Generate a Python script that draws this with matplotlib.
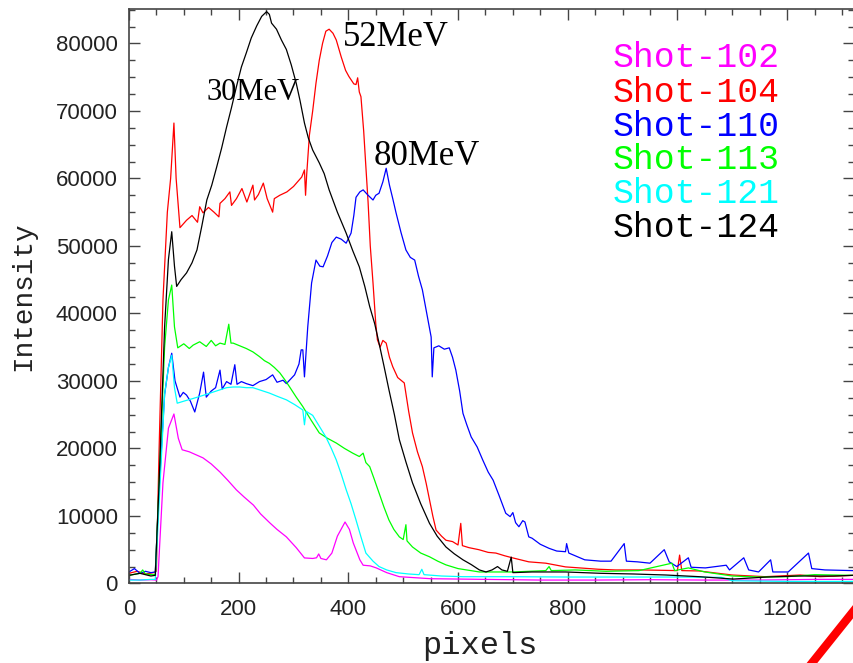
import matplotlib
matplotlib.use("Agg")
import matplotlib.pyplot as plt
from matplotlib.lines import Line2D
from matplotlib.ticker import MultipleLocator

# intensity profiles (pixels, counts)
x102 = [0, 20, 40, 50, 53, 62, 72, 82, 90, 97, 110, 135, 150, 166, 180, 196, 210, 227, 240, 257,
        270, 287, 305, 320, 335, 342, 346, 350, 360, 370, 380, 394, 402, 409, 421, 427, 440, 451,
        470, 493, 550, 650, 750, 850, 950, 1050, 1150, 1250, 1320]
y102 = [600, 500, 550, 500, 1000, 14900, 23000, 25100, 21500, 19800, 19500, 18600, 17700, 16500,
        15300, 13850, 12800, 11600, 10300, 8960, 8000, 6900, 5300, 3780, 3700, 3800, 4370, 3700,
        3500, 4500, 7000, 9100, 8000, 6000, 3500, 2700, 2600, 2300, 1600, 1000, 700, 600, 500, 500,
        550, 500, 500, 600, 600]

x104 = [0, 15, 30, 45, 50, 55, 62, 70, 76, 82, 86, 93, 105, 115, 125, 129, 135, 145, 155, 164,
        166, 175, 184, 187, 196, 206, 215, 226, 229, 236, 245, 252, 262, 265, 275, 288, 300, 315,
        320, 322, 324, 329, 335, 341, 347, 353, 359, 365, 372, 378, 387, 395, 401, 410, 414, 417,
        420, 423, 428, 432, 436, 440, 445, 450, 453, 458, 463, 469, 475, 481, 490, 502, 510, 517,
        526, 535, 542, 548, 554, 560, 570, 578, 590, 600, 605, 608, 620, 638, 655, 669, 685, 699,
        729, 760, 796, 856, 887, 935, 1000, 1004, 1008, 1039, 1100, 1160, 1224, 1260, 1320]
y104 = [1500, 1800, 1400, 1600, 1800, 20000, 42000, 55000, 60000, 68200, 60000, 52700, 53800,
        54500, 53500, 55800, 54900, 55700, 55000, 54300, 56300, 57000, 58000, 56000, 57000, 58500,
        56500, 59000, 56800, 57600, 59300, 57000, 55000, 57000, 57500, 58000, 58800, 60200, 61250,
        57500, 60500, 66400, 70000, 74100, 77500, 80000, 81800, 82100, 81500, 80500, 78000, 76000,
        75100, 74000, 73900, 74900, 72800, 72100, 67000, 61700, 56500, 50000, 44500, 38500, 36100,
        35000, 36000, 35600, 33500, 32100, 30500, 29700, 25500, 22300, 19500, 17300, 14800, 12400,
        10000, 7900, 7000, 6400, 6200, 5700, 8900, 5600, 5300, 5000, 4600, 4500, 4100, 3800, 3200,
        3000, 2450, 2100, 2000, 2000, 1900, 4200, 1900, 1850, 1250, 1000, 1250, 1000, 1200]

x110 = [0, 10, 20, 30, 40, 48, 55, 65, 72, 78, 84, 93, 99, 105, 112, 120, 129, 136, 141, 150, 158,
        166, 170, 178, 186, 193, 197, 205, 214, 226, 238, 250, 262, 270, 281, 287, 295, 302, 310,
        314, 317, 320, 326, 333, 341, 348, 354, 362, 370, 378, 387, 396, 405, 410, 414, 421, 427,
        436, 445, 450, 456, 463, 469, 475, 481, 487, 496, 505, 513, 521, 528, 535, 543, 551, 553,
        556, 565, 575, 584, 590, 596, 603, 609, 616, 624, 635, 645, 655, 664, 675, 687, 695, 700,
        705, 711, 718, 722, 729, 735, 750, 766, 780, 796, 798, 802, 831, 860, 879, 903, 907, 927,
        950, 976, 985, 999, 1020, 1025, 1051, 1089, 1095, 1121, 1130, 1148, 1170, 1174, 1202, 1239,
        1245, 1269, 1320]
y110 = [1700, 2200, 1500, 1800, 1600, 1700, 14000, 28000, 32000, 34100, 30000, 27600, 28300, 27900,
        27000, 25400, 28200, 31300, 27600, 28500, 29000, 31600, 28800, 29900, 29500, 32400, 29500,
        29900, 29600, 29300, 29900, 30200, 30900, 29800, 30100, 29600, 30300, 30900, 32500, 34600,
        34600, 30600, 38000, 44500, 47900, 47000, 46900, 48500, 50500, 51300, 51000, 50400, 51900,
        54500, 57200, 58000, 58300, 57500, 56800, 57500, 57800, 59500, 61500, 59000, 57000, 54900,
        52000, 49400, 48300, 47900, 45500, 43500, 40000, 36500, 30600, 34900, 35200, 34700, 34900,
        33500, 31600, 28500, 25200, 23500, 21700, 20200, 18300, 16500, 15300, 13000, 10400, 9900,
        10500, 9000, 8400, 9300, 9100, 6900, 6700, 5800, 5200, 4800, 4700, 5900, 4500, 3500, 3300,
        3300, 5900, 3300, 3200, 3000, 5000, 3200, 2500, 3800, 2400, 2300, 2700, 2000, 3800, 2000,
        1700, 3500, 1700, 1700, 4500, 2200, 2000, 1900]

x113 = [0, 20, 25, 30, 40, 48, 55, 65, 72, 78, 83, 89, 100, 110, 117, 129, 141, 150, 158, 166, 175,
        182, 186, 190, 202, 214, 226, 238, 247, 256, 265, 275, 284, 293, 305, 317, 332, 347, 362,
        378, 393, 408, 420, 427, 432, 439, 447, 456, 465, 474, 483, 493, 500, 505, 507, 517, 532,
        548, 563, 578, 600, 639, 700, 760, 766, 770, 814, 870, 930, 990, 995, 1020, 1050, 1100,
        1150, 1200, 1250, 1320]
y113 = [1200, 1500, 2000, 1400, 1300, 1300, 15000, 35000, 42000, 44200, 38000, 34900, 35500, 34800,
        35300, 35800, 35100, 36000, 35200, 35600, 35400, 38400, 35600, 35600, 35200, 34800, 34300,
        33600, 33000, 32600, 32000, 31200, 30200, 29100, 27600, 26200, 24200, 22300, 21500, 20800,
        20000, 19300, 18800, 19300, 17900, 17300, 15500, 13400, 11300, 9400, 8000, 6900, 6500,
        8700, 6300, 5400, 4500, 3950, 3300, 2750, 2200, 1700, 1700, 1900, 2500, 1900, 2000, 1800,
        1900, 3000, 1900, 2300, 1700, 1100, 950, 1000, 1300, 1200]

x121 = [0, 20, 40, 48, 55, 65, 72, 78, 83, 88, 100, 117, 133, 148, 163, 178, 190, 202, 214, 226,
        241, 256, 271, 287, 302, 317, 320, 323, 335, 347, 359, 369, 378, 387, 396, 405, 414, 423,
        432, 445, 456, 470, 487, 510, 529, 534, 538, 570, 609, 700, 800, 900, 1000, 1080, 1100,
        1200, 1320]
y121 = [500, 500, 600, 600, 12000, 28000, 32000, 33800, 29000, 26700, 27000, 27400, 27800, 28200,
        28600, 29000, 29100, 29100, 29000, 29000, 28600, 28200, 27700, 27200, 26500, 25700, 23500,
        25500, 24900, 23300, 21700, 20000, 18300, 16200, 13900, 11800, 9400, 6900, 4500, 3300,
        2500, 2000, 1600, 1400, 1300, 2100, 1300, 1100, 1000, 1000, 950, 950, 950, 900, 400, 300,
        300]

x124 = [0, 20, 40, 48, 55, 65, 72, 78, 83, 87, 95, 105, 115, 124, 133, 142, 151, 160, 169, 178,
        187, 196, 205, 214, 223, 233, 242, 251, 256, 260, 269, 278, 287, 296, 305, 312, 320, 327,
        335, 347, 356, 365, 380, 396, 408, 420, 430, 439, 448, 456, 465, 474, 484, 493, 505, 517,
        532, 548, 562, 578, 593, 609, 624, 639, 651, 662, 672, 680, 690, 697, 700, 735, 796, 860,
        920, 979, 1040, 1102, 1163, 1220, 1285, 1320]
y124 = [1200, 1500, 1100, 1200, 15000, 38000, 48000, 52100, 47000, 44000, 45000, 46000, 47500,
        49400, 53000, 56800, 59000, 61700, 64500, 67600, 70500, 73600, 76500, 78600, 80800, 82600,
        84000, 84700, 84300, 83000, 82100, 80500, 79100, 76800, 74100, 71500, 68200, 66000, 64200,
        62300, 60700, 58300, 55000, 51900, 49300, 46900, 44000, 41000, 38500, 35600, 32200, 28700,
        25000, 21300, 18000, 14900, 11800, 8900, 7000, 5400, 4400, 3500, 2800, 2000, 1700, 2000,
        2500, 2000, 1800, 3900, 1600, 1700, 1700, 1500, 1400, 1250, 1000, 650, 950, 1100, 1100,
        1200]

shots = ["Shot-102", "Shot-104", "Shot-110", "Shot-113", "Shot-121", "Shot-124"]
colors = ["#ff00ff", "#ff0000", "#0000ff", "#00ff00", "#00ffff", "#000000"]
xs = [x102, x104, x110, x113, x121, x124]
ys = [y102, y104, y110, y113, y121, y124]

peak_labels = ["30MeV", "52MeV", "80MeV"]
peak_x = [142, 390, 446]
peak_y = [72700, 80800, 63200]
peak_size = [22, 25, 25]

fig = plt.figure(figsize=(8.54, 6.63), dpi=100)
ax = fig.add_axes([0.151, 0.12, 0.849, 0.8665])

for x, y, c in zip(xs, ys, colors):
    ax.plot(x, y, color=c, linewidth=0.9)

ax.set_xlim(0, 1322)
ax.set_ylim(0, 85100)
ax.xaxis.set_major_locator(MultipleLocator(200))
ax.xaxis.set_minor_locator(MultipleLocator(50))
ax.yaxis.set_major_locator(MultipleLocator(10000))
ax.yaxis.set_minor_locator(MultipleLocator(2500))
ax.tick_params(which="both", direction="in", top=True, right=True, color="#444444", width=1)
ax.tick_params(which="major", length=8, labelsize=16, labelcolor="#222222")
ax.tick_params(which="minor", length=4)
ax.tick_params(axis="y", pad=8)
ax.tick_params(axis="x", pad=11)
for lab in ax.get_xticklabels() + ax.get_yticklabels():
    lab.set_family("Liberation Sans")
for s in ax.spines.values():
    s.set_color("#444444")
    s.set_linewidth(1.2)

ax.set_xlabel("pixels", family="Liberation Mono", fontsize=23, color="#222222", labelpad=8)
ax.xaxis.label.set_x(0.484)
ax.set_ylabel("Intensity", family="Liberation Mono", fontsize=20, color="#222222", labelpad=14)

# energy labels over the peaks
for t, px, py, fs in zip(peak_labels, peak_x, peak_y, peak_size):
    ax.text(px, py, t, family="Liberation Serif", fontsize=fs, va="center", ha="left")

# coloured legend text
leg_y = [77850, 72670, 67630, 62740, 57710, 52670]
for t, c, ly in zip(shots, colors, leg_y):
    ax.text(881, ly, t, color=c, family="Liberation Mono", fontsize=25, va="center", ha="left")

# red stroke in the bottom right corner
fig.add_artist(Line2D([812 / 854, 856 / 854], [0, 55 / 663], color="#ff0000",
                      linewidth=6, transform=fig.transFigure))

fig.savefig("out.png", dpi=100)
